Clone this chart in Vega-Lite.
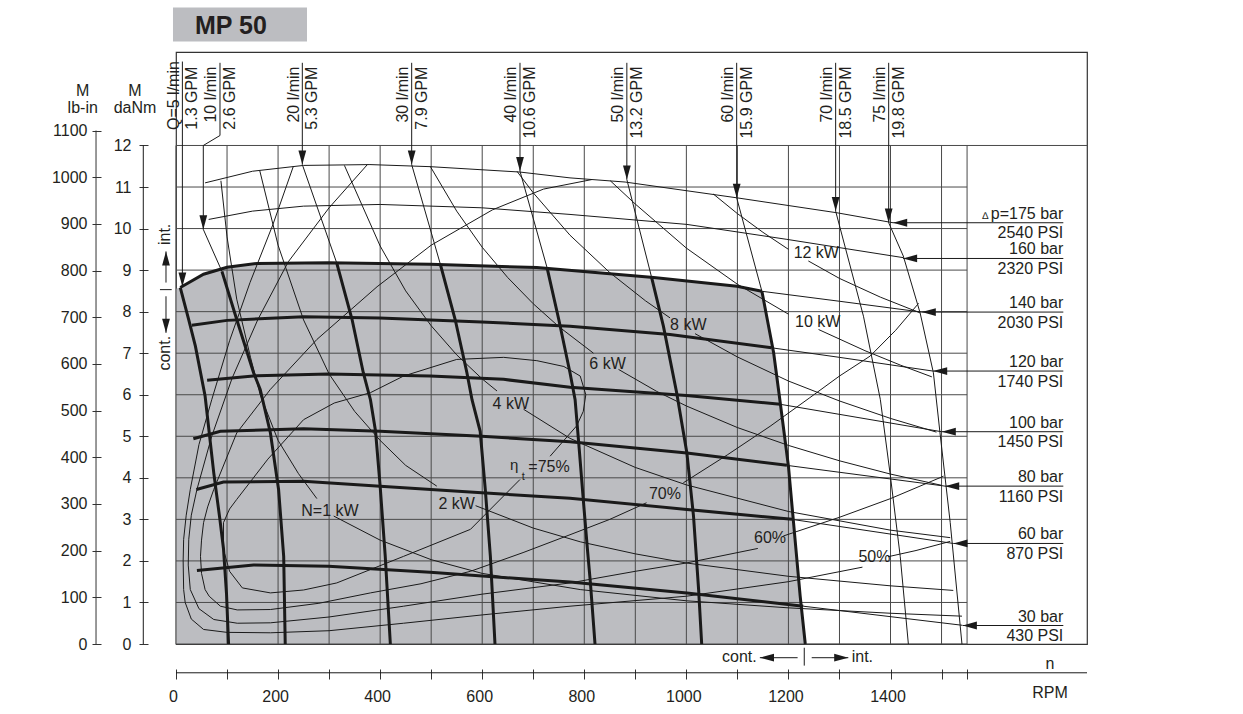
{
"$schema":"https://vega.github.io/schema/vega-lite/v6.json",
"width":911,"height":592,
"autosize":{"type":"none"},
"padding":{"left":176,"top":52,"right":156,"bottom":70},
"background":"white",
"config":{"view":{"stroke":"#333","strokeWidth":1.2},"text":{"font":"Liberation Sans","fontSize":16,"color":"#231f20"}},
"datasets":{
"grid":[
{"rpm":0,"rpm2":0,"M":0,"M2":12},{"rpm":100,"rpm2":100,"M":0,"M2":12},{"rpm":200,"rpm2":200,"M":0,"M2":12},{"rpm":300,"rpm2":300,"M":0,"M2":12},{"rpm":400,"rpm2":400,"M":0,"M2":12},{"rpm":500,"rpm2":500,"M":0,"M2":12},{"rpm":600,"rpm2":600,"M":0,"M2":12},{"rpm":700,"rpm2":700,"M":0,"M2":12},{"rpm":800,"rpm2":800,"M":0,"M2":12},{"rpm":900,"rpm2":900,"M":0,"M2":12},{"rpm":1000,"rpm2":1000,"M":0,"M2":12},{"rpm":1100,"rpm2":1100,"M":0,"M2":12},{"rpm":1200,"rpm2":1200,"M":0,"M2":12},{"rpm":1300,"rpm2":1300,"M":0,"M2":12},{"rpm":1400,"rpm2":1400,"M":0,"M2":12},{"rpm":1500,"rpm2":1500,"M":0,"M2":12},{"rpm":1550,"rpm2":1550,"M":0,"M2":12},
{"rpm":0,"rpm2":1550,"M":0,"M2":0},{"rpm":0,"rpm2":1550,"M":1,"M2":1},{"rpm":0,"rpm2":1550,"M":2,"M2":2},{"rpm":0,"rpm2":1550,"M":3,"M2":3},{"rpm":0,"rpm2":1550,"M":4,"M2":4},{"rpm":0,"rpm2":1550,"M":5,"M2":5},{"rpm":0,"rpm2":1550,"M":6,"M2":6},{"rpm":0,"rpm2":1550,"M":7,"M2":7},{"rpm":0,"rpm2":1550,"M":8,"M2":8},{"rpm":0,"rpm2":1550,"M":9,"M2":9},{"rpm":0,"rpm2":1550,"M":10,"M2":10},{"rpm":0,"rpm2":1550,"M":11,"M2":11},{"rpm":0,"rpm2":1785,"M":12,"M2":12}
],
"area":[
{"rpm":0,"M":8.55},{"rpm":8.4,"M":8.58},{"rpm":54,"M":8.9},{"rpm":100,"M":9.07},{"rpm":159,"M":9.16},{"rpm":299,"M":9.18},{"rpm":498,"M":9.14},{"rpm":707,"M":9.06},{"rpm":936,"M":8.82},{"rpm":1099,"M":8.61},{"rpm":1148,"M":8.49},{"rpm":1171,"M":7.01},{"rpm":1184,"M":5.8},{"rpm":1200,"M":4.28},{"rpm":1210,"M":2.92},{"rpm":1223,"M":1.15},{"rpm":1233,"M":0}
],
"curves":[
{"c":"p140","k":"cont","rpm":8.4,"M":8.58},{"c":"p140","k":"cont","rpm":54,"M":8.9},{"c":"p140","k":"cont","rpm":100,"M":9.07},{"c":"p140","k":"cont","rpm":159,"M":9.16},{"c":"p140","k":"cont","rpm":299,"M":9.18},{"c":"p140","k":"cont","rpm":498,"M":9.14},{"c":"p140","k":"cont","rpm":707,"M":9.06},{"c":"p140","k":"cont","rpm":936,"M":8.82},{"c":"p140","k":"cont","rpm":1099,"M":8.61},{"c":"p140","k":"cont","rpm":1148,"M":8.49},
{"c":"p120","k":"cont","rpm":31,"M":7.67},{"c":"p120","k":"cont","rpm":100,"M":7.79},{"c":"p120","k":"cont","rpm":250,"M":7.88},{"c":"p120","k":"cont","rpm":399,"M":7.85},{"c":"p120","k":"cont","rpm":599,"M":7.75},{"c":"p120","k":"cont","rpm":772,"M":7.65},{"c":"p120","k":"cont","rpm":968,"M":7.45},{"c":"p120","k":"cont","rpm":1167,"M":7.13},
{"c":"p100","k":"cont","rpm":61,"M":6.35},{"c":"p100","k":"cont","rpm":159,"M":6.46},{"c":"p100","k":"cont","rpm":299,"M":6.5},{"c":"p100","k":"cont","rpm":498,"M":6.45},{"c":"p100","k":"cont","rpm":642,"M":6.37},{"c":"p100","k":"cont","rpm":772,"M":6.18},{"c":"p100","k":"cont","rpm":1000,"M":5.98},{"c":"p100","k":"cont","rpm":1184,"M":5.77},
{"c":"p80","k":"cont","rpm":34,"M":4.94},{"c":"p80","k":"cont","rpm":87,"M":5.12},{"c":"p80","k":"cont","rpm":250,"M":5.18},{"c":"p80","k":"cont","rpm":400,"M":5.12},{"c":"p80","k":"cont","rpm":599,"M":5.0},{"c":"p80","k":"cont","rpm":772,"M":4.87},{"c":"p80","k":"cont","rpm":1001,"M":4.6},{"c":"p80","k":"cont","rpm":1197,"M":4.3},
{"c":"p60","k":"cont","rpm":40,"M":3.72},{"c":"p60","k":"cont","rpm":93,"M":3.9},{"c":"p60","k":"cont","rpm":250,"M":3.92},{"c":"p60","k":"cont","rpm":400,"M":3.8},{"c":"p60","k":"cont","rpm":599,"M":3.64},{"c":"p60","k":"cont","rpm":772,"M":3.51},{"c":"p60","k":"cont","rpm":1001,"M":3.24},{"c":"p60","k":"cont","rpm":1207,"M":3.0},
{"c":"p30","k":"cont","rpm":41,"M":1.77},{"c":"p30","k":"cont","rpm":152,"M":1.9},{"c":"p30","k":"cont","rpm":299,"M":1.87},{"c":"p30","k":"cont","rpm":498,"M":1.73},{"c":"p30","k":"cont","rpm":699,"M":1.55},{"c":"p30","k":"cont","rpm":772,"M":1.49},{"c":"p30","k":"cont","rpm":1001,"M":1.23},{"c":"p30","k":"cont","rpm":1229,"M":0.91},
{"c":"q5","k":"cont","rpm":8.4,"M":8.58},{"c":"q5","k":"cont","rpm":25,"M":7.8},{"c":"q5","k":"cont","rpm":38,"M":7.17},{"c":"q5","k":"cont","rpm":57,"M":5.97},{"c":"q5","k":"cont","rpm":74,"M":4.12},{"c":"q5","k":"cont","rpm":86,"M":3.0},{"c":"q5","k":"cont","rpm":93,"M":2.3},{"c":"q5","k":"cont","rpm":99,"M":1.2},{"c":"q5","k":"cont","rpm":103,"M":0},
{"c":"q10","k":"cont","rpm":90,"M":8.97},{"c":"q10","k":"cont","rpm":119,"M":7.81},{"c":"q10","k":"cont","rpm":152,"M":6.53},{"c":"q10","k":"cont","rpm":165,"M":6.13},{"c":"q10","k":"cont","rpm":185,"M":5.08},{"c":"q10","k":"cont","rpm":201,"M":3.72},{"c":"q10","k":"cont","rpm":211,"M":2.11},{"c":"q10","k":"cont","rpm":214,"M":0},
{"c":"q20","k":"cont","rpm":315,"M":9.17},{"c":"q20","k":"cont","rpm":345,"M":7.81},{"c":"q20","k":"cont","rpm":367,"M":6.53},{"c":"q20","k":"cont","rpm":381,"M":5.88},{"c":"q20","k":"cont","rpm":391,"M":5.12},{"c":"q20","k":"cont","rpm":400,"M":3.8},{"c":"q20","k":"cont","rpm":410,"M":2.11},{"c":"q20","k":"cont","rpm":420,"M":0},
{"c":"q30","k":"cont","rpm":518,"M":9.14},{"c":"q30","k":"cont","rpm":547,"M":7.81},{"c":"q30","k":"cont","rpm":570,"M":6.53},{"c":"q30","k":"cont","rpm":580,"M":5.88},{"c":"q30","k":"cont","rpm":596,"M":5.12},{"c":"q30","k":"cont","rpm":606,"M":3.72},{"c":"q30","k":"cont","rpm":616,"M":2.11},{"c":"q30","k":"cont","rpm":625,"M":0},
{"c":"q40","k":"cont","rpm":727,"M":9.06},{"c":"q40","k":"cont","rpm":750,"M":7.81},{"c":"q40","k":"cont","rpm":772,"M":6.53},{"c":"q40","k":"cont","rpm":782,"M":5.88},{"c":"q40","k":"cont","rpm":790,"M":4.7},{"c":"q40","k":"cont","rpm":798,"M":3.48},{"c":"q40","k":"cont","rpm":806,"M":2.3},{"c":"q40","k":"cont","rpm":812,"M":1.47},{"c":"q40","k":"cont","rpm":821,"M":0},
{"c":"q50","k":"cont","rpm":932,"M":8.82},{"c":"q50","k":"cont","rpm":955,"M":7.65},{"c":"q50","k":"cont","rpm":981,"M":6.05},{"c":"q50","k":"cont","rpm":1001,"M":4.6},{"c":"q50","k":"cont","rpm":1014,"M":3.08},{"c":"q50","k":"cont","rpm":1024,"M":1.31},{"c":"q50","k":"cont","rpm":1030,"M":0},
{"c":"q60","k":"cont","rpm":1148,"M":8.49},{"c":"q60","k":"cont","rpm":1171,"M":7.01},{"c":"q60","k":"cont","rpm":1184,"M":5.8},{"c":"q60","k":"cont","rpm":1200,"M":4.28},{"c":"q60","k":"cont","rpm":1210,"M":2.92},{"c":"q60","k":"cont","rpm":1223,"M":1.15},{"c":"q60","k":"cont","rpm":1233,"M":0},
{"c":"p140i","k":"int","rpm":1148,"M":8.49},{"c":"p140i","k":"int","rpm":1300,"M":8.25},{"c":"p140i","k":"int","rpm":1461,"M":7.99},
{"c":"p120i","k":"int","rpm":1167,"M":7.13},{"c":"p120i","k":"int","rpm":1300,"M":6.9},{"c":"p120i","k":"int","rpm":1483,"M":6.57},
{"c":"p100i","k":"int","rpm":1184,"M":5.77},{"c":"p100i","k":"int","rpm":1500,"M":5.11},
{"c":"p80i","k":"int","rpm":1197,"M":4.3},{"c":"p80i","k":"int","rpm":1507,"M":3.8},
{"c":"p60i","k":"int","rpm":1207,"M":3.0},{"c":"p60i","k":"int","rpm":1523,"M":2.42},
{"c":"p30i","k":"int","rpm":1229,"M":0.91},{"c":"p30i","k":"int","rpm":1541,"M":0.45},
{"c":"p175i","k":"int","rpm":57,"M":11.1},{"c":"p175i","k":"int","rpm":150,"M":11.38},{"c":"p175i","k":"int","rpm":250,"M":11.52},{"c":"p175i","k":"int","rpm":380,"M":11.54},{"c":"p175i","k":"int","rpm":498,"M":11.49},{"c":"p175i","k":"int","rpm":674,"M":11.36},{"c":"p175i","k":"int","rpm":772,"M":11.22},{"c":"p175i","k":"int","rpm":880,"M":11.12},{"c":"p175i","k":"int","rpm":1099,"M":10.74},{"c":"p175i","k":"int","rpm":1295,"M":10.38},{"c":"p175i","k":"int","rpm":1405,"M":10.14},
{"c":"p160i","k":"int","rpm":64,"M":10.22},{"c":"p160i","k":"int","rpm":150,"M":10.42},{"c":"p160i","k":"int","rpm":250,"M":10.54},{"c":"p160i","k":"int","rpm":400,"M":10.58},{"c":"p160i","k":"int","rpm":599,"M":10.5},{"c":"p160i","k":"int","rpm":772,"M":10.34},{"c":"p160i","k":"int","rpm":1001,"M":10.1},{"c":"p160i","k":"int","rpm":1197,"M":9.74},{"c":"p160i","k":"int","rpm":1425,"M":9.3},
{"c":"q10i","k":"int","rpm":53.5,"M":9.98},{"c":"q10i","k":"int","rpm":90,"M":8.97},
{"c":"q20i","k":"int","rpm":247.5,"M":11.54},{"c":"q20i","k":"int","rpm":315,"M":9.17},
{"c":"q30i","k":"int","rpm":461.8,"M":11.54},{"c":"q30i","k":"int","rpm":518,"M":9.14},
{"c":"q40i","k":"int","rpm":674,"M":11.38},{"c":"q40i","k":"int","rpm":727,"M":9.06},
{"c":"q50i","k":"int","rpm":883.4,"M":11.18},{"c":"q50i","k":"int","rpm":932,"M":8.82},
{"c":"q60i","k":"int","rpm":1098.6,"M":10.74},{"c":"q60i","k":"int","rpm":1148,"M":8.49},
{"c":"q70i","k":"int","rpm":1292.5,"M":10.42},{"c":"q70i","k":"int","rpm":1347,"M":7.89},{"c":"q70i","k":"int","rpm":1380,"M":5.89},{"c":"q70i","k":"int","rpm":1399,"M":4.12},{"c":"q70i","k":"int","rpm":1419,"M":2.11},{"c":"q70i","k":"int","rpm":1435,"M":0},
{"c":"q75i","k":"int","rpm":1396.4,"M":10.14},{"c":"q75i","k":"int","rpm":1425,"M":9.34},{"c":"q75i","k":"int","rpm":1458,"M":7.97},{"c":"q75i","k":"int","rpm":1484,"M":6.53},{"c":"q75i","k":"int","rpm":1497,"M":5.08},{"c":"q75i","k":"int","rpm":1517,"M":2.92},{"c":"q75i","k":"int","rpm":1540,"M":0},
{"c":"kw1a","k":"power","rpm":88,"M":11.15},{"c":"kw1a","k":"power","rpm":100,"M":9.8},{"c":"kw1a","k":"power","rpm":119,"M":8.3},{"c":"kw1a","k":"power","rpm":146,"M":6.9},{"c":"kw1a","k":"power","rpm":165,"M":6.0},{"c":"kw1a","k":"power","rpm":200,"M":4.9},{"c":"kw1a","k":"power","rpm":240,"M":4.1},{"c":"kw1a","k":"power","rpm":276,"M":3.5},
{"c":"kw1b","k":"power","rpm":309,"M":3.08},{"c":"kw1b","k":"power","rpm":400,"M":2.5},{"c":"kw1b","k":"power","rpm":500,"M":2.03},{"c":"kw1b","k":"power","rpm":600,"M":1.7},{"c":"kw1b","k":"power","rpm":792,"M":1.31},{"c":"kw1b","k":"power","rpm":1000,"M":1.04},{"c":"kw1b","k":"power","rpm":1200,"M":0.87},{"c":"kw1b","k":"power","rpm":1400,"M":0.74},{"c":"kw1b","k":"power","rpm":1540,"M":0.67},
{"c":"kw2a","k":"power","rpm":164,"M":11.4},{"c":"kw2a","k":"power","rpm":200,"M":9.6},{"c":"kw2a","k":"power","rpm":250,"M":7.8},{"c":"kw2a","k":"power","rpm":300,"M":6.5},{"c":"kw2a","k":"power","rpm":350,"M":5.6},{"c":"kw2a","k":"power","rpm":400,"M":4.9},{"c":"kw2a","k":"power","rpm":450,"M":4.3},{"c":"kw2a","k":"power","rpm":511,"M":3.8},
{"c":"kw2b","k":"power","rpm":587,"M":3.33},{"c":"kw2b","k":"power","rpm":700,"M":2.79},{"c":"kw2b","k":"power","rpm":792,"M":2.46},{"c":"kw2b","k":"power","rpm":900,"M":2.17},{"c":"kw2b","k":"power","rpm":1000,"M":1.95},{"c":"kw2b","k":"power","rpm":1200,"M":1.63},{"c":"kw2b","k":"power","rpm":1400,"M":1.4},{"c":"kw2b","k":"power","rpm":1523,"M":1.29},
{"c":"kw4a","k":"power","rpm":330,"M":11.52},{"c":"kw4a","k":"power","rpm":400,"M":9.58},{"c":"kw4a","k":"power","rpm":450,"M":8.5},{"c":"kw4a","k":"power","rpm":500,"M":7.66},{"c":"kw4a","k":"power","rpm":550,"M":6.96},{"c":"kw4a","k":"power","rpm":600,"M":6.38},{"c":"kw4a","k":"power","rpm":629,"M":6.09},
{"c":"kw4b","k":"power","rpm":681,"M":5.65},{"c":"kw4b","k":"power","rpm":772,"M":4.95},{"c":"kw4b","k":"power","rpm":900,"M":4.25},{"c":"kw4b","k":"power","rpm":1000,"M":3.83},{"c":"kw4b","k":"power","rpm":1200,"M":3.19},{"c":"kw4b","k":"power","rpm":1400,"M":2.74},{"c":"kw4b","k":"power","rpm":1517,"M":2.56},
{"c":"kw6a","k":"power","rpm":498,"M":11.5},{"c":"kw6a","k":"power","rpm":550,"M":10.42},{"c":"kw6a","k":"power","rpm":600,"M":9.55},{"c":"kw6a","k":"power","rpm":650,"M":8.82},{"c":"kw6a","k":"power","rpm":700,"M":8.19},{"c":"kw6a","k":"power","rpm":750,"M":7.64},{"c":"kw6a","k":"power","rpm":818,"M":7.0},
{"c":"kw6b","k":"power","rpm":867,"M":6.61},{"c":"kw6b","k":"power","rpm":942,"M":6.08},{"c":"kw6b","k":"power","rpm":1000,"M":5.73},{"c":"kw6b","k":"power","rpm":1100,"M":5.21},{"c":"kw6b","k":"power","rpm":1200,"M":4.78},{"c":"kw6b","k":"power","rpm":1300,"M":4.41},{"c":"kw6b","k":"power","rpm":1400,"M":4.09},{"c":"kw6b","k":"power","rpm":1500,"M":3.82},
{"c":"kw8a","k":"power","rpm":668,"M":11.38},{"c":"kw8a","k":"power","rpm":700,"M":10.86},{"c":"kw8a","k":"power","rpm":772,"M":9.84},{"c":"kw8a","k":"power","rpm":850,"M":8.94},{"c":"kw8a","k":"power","rpm":920,"M":8.26},{"c":"kw8a","k":"power","rpm":968,"M":7.85},
{"c":"kw8b","k":"power","rpm":1017,"M":7.47},{"c":"kw8b","k":"power","rpm":1100,"M":6.91},{"c":"kw8b","k":"power","rpm":1200,"M":6.33},{"c":"kw8b","k":"power","rpm":1300,"M":5.85},{"c":"kw8b","k":"power","rpm":1400,"M":5.43},{"c":"kw8b","k":"power","rpm":1490,"M":5.1},
{"c":"kw10a","k":"power","rpm":851,"M":11.15},{"c":"kw10a","k":"power","rpm":900,"M":10.59},{"c":"kw10a","k":"power","rpm":1000,"M":9.53},{"c":"kw10a","k":"power","rpm":1100,"M":8.66},{"c":"kw10a","k":"power","rpm":1200,"M":7.94},
{"c":"kw10b","k":"power","rpm":1259,"M":7.57},{"c":"kw10b","k":"power","rpm":1350,"M":7.06},{"c":"kw10b","k":"power","rpm":1420,"M":6.71},{"c":"kw10b","k":"power","rpm":1481,"M":6.43},
{"c":"kw12a","k":"power","rpm":1053,"M":10.83},{"c":"kw12a","k":"power","rpm":1100,"M":10.36},{"c":"kw12a","k":"power","rpm":1150,"M":9.91},{"c":"kw12a","k":"power","rpm":1200,"M":9.5},
{"c":"kw12b","k":"power","rpm":1239,"M":9.22},{"c":"kw12b","k":"power","rpm":1300,"M":8.8},{"c":"kw12b","k":"power","rpm":1380,"M":8.35},{"c":"kw12b","k":"power","rpm":1458,"M":7.97},
{"c":"e75","k":"eff","rpm":674,"M":3.96},{"c":"e75","k":"eff","rpm":577,"M":2.76},{"c":"e75","k":"eff","rpm":446,"M":2.11},{"c":"e75","k":"eff","rpm":315,"M":1.47},{"c":"e75","k":"eff","rpm":250,"M":1.3},{"c":"e75","k":"eff","rpm":185,"M":1.23},{"c":"e75","k":"eff","rpm":130,"M":1.35},{"c":"e75","k":"eff","rpm":105,"M":1.75},{"c":"e75","k":"eff","rpm":93,"M":2.27},{"c":"e75","k":"eff","rpm":93,"M":2.92},{"c":"e75","k":"eff","rpm":105,"M":3.25},{"c":"e75","k":"eff","rpm":119,"M":3.48},{"c":"e75","k":"eff","rpm":180,"M":4.45},{"c":"e75","k":"eff","rpm":250,"M":5.4},{"c":"e75","k":"eff","rpm":310,"M":5.8},{"c":"e75","k":"eff","rpm":381,"M":6.05},{"c":"e75","k":"eff","rpm":446,"M":6.45},{"c":"e75","k":"eff","rpm":550,"M":6.85},{"c":"e75","k":"eff","rpm":642,"M":6.9},{"c":"e75","k":"eff","rpm":707,"M":6.82},{"c":"e75","k":"eff","rpm":760,"M":6.68},{"c":"e75","k":"eff","rpm":792,"M":6.45},{"c":"e75","k":"eff","rpm":803,"M":6.0},{"c":"e75","k":"eff","rpm":798,"M":5.6},{"c":"e75","k":"eff","rpm":785,"M":5.25},{"c":"e75","k":"eff","rpm":760,"M":4.9},{"c":"e75","k":"eff","rpm":733,"M":4.52},
{"c":"e70a","k":"eff","rpm":994,"M":3.88},{"c":"e70a","k":"eff","rpm":1080,"M":4.55},{"c":"e70a","k":"eff","rpm":1164,"M":5.24},{"c":"e70a","k":"eff","rpm":1242,"M":5.93},{"c":"e70a","k":"eff","rpm":1300,"M":6.45},{"c":"e70a","k":"eff","rpm":1360,"M":6.93},{"c":"e70a","k":"eff","rpm":1410,"M":7.55},{"c":"e70a","k":"eff","rpm":1455,"M":8.2},
{"c":"e70b","k":"eff","rpm":922,"M":3.4},{"c":"e70b","k":"eff","rpm":850,"M":3.0},{"c":"e70b","k":"eff","rpm":772,"M":2.63},{"c":"e70b","k":"eff","rpm":680,"M":2.2},{"c":"e70b","k":"eff","rpm":577,"M":1.75},{"c":"e70b","k":"eff","rpm":480,"M":1.45},{"c":"e70b","k":"eff","rpm":381,"M":1.23},{"c":"e70b","k":"eff","rpm":280,"M":0.98},{"c":"e70b","k":"eff","rpm":185,"M":0.83},{"c":"e70b","k":"eff","rpm":120,"M":0.82},{"c":"e70b","k":"eff","rpm":87,"M":0.91},{"c":"e70b","k":"eff","rpm":65,"M":1.15},{"c":"e70b","k":"eff","rpm":57,"M":1.31},{"c":"e70b","k":"eff","rpm":50,"M":1.7},{"c":"e70b","k":"eff","rpm":48,"M":2.11},{"c":"e70b","k":"eff","rpm":50,"M":2.5},{"c":"e70b","k":"eff","rpm":54,"M":2.92},{"c":"e70b","k":"eff","rpm":62,"M":3.3},{"c":"e70b","k":"eff","rpm":74,"M":3.72},{"c":"e70b","k":"eff","rpm":119,"M":5.08},{"c":"e70b","k":"eff","rpm":185,"M":6.13},{"c":"e70b","k":"eff","rpm":276,"M":7.33},{"c":"e70b","k":"eff","rpm":394,"M":8.6},{"c":"e70b","k":"eff","rpm":500,"M":9.6},{"c":"e70b","k":"eff","rpm":620,"M":10.45},{"c":"e70b","k":"eff","rpm":720,"M":10.95},{"c":"e70b","k":"eff","rpm":815,"M":11.18},
{"c":"e60a","k":"eff","rpm":1190,"M":2.6},{"c":"e60a","k":"eff","rpm":1300,"M":3.05},{"c":"e60a","k":"eff","rpm":1400,"M":3.5},{"c":"e60a","k":"eff","rpm":1504,"M":4.04},
{"c":"e60b","k":"eff","rpm":1140,"M":2.3},{"c":"e60b","k":"eff","rpm":1000,"M":1.95},{"c":"e60b","k":"eff","rpm":900,"M":1.75},{"c":"e60b","k":"eff","rpm":772,"M":1.47},{"c":"e60b","k":"eff","rpm":600,"M":1.2},{"c":"e60b","k":"eff","rpm":446,"M":0.91},{"c":"e60b","k":"eff","rpm":300,"M":0.65},{"c":"e60b","k":"eff","rpm":185,"M":0.51},{"c":"e60b","k":"eff","rpm":120,"M":0.5},{"c":"e60b","k":"eff","rpm":74,"M":0.59},{"c":"e60b","k":"eff","rpm":45,"M":0.85},{"c":"e60b","k":"eff","rpm":28,"M":1.31},{"c":"e60b","k":"eff","rpm":24,"M":1.9},{"c":"e60b","k":"eff","rpm":25,"M":2.52},{"c":"e60b","k":"eff","rpm":30,"M":3.1},{"c":"e60b","k":"eff","rpm":41,"M":3.72},{"c":"e60b","k":"eff","rpm":70,"M":5.0},{"c":"e60b","k":"eff","rpm":110,"M":6.4},{"c":"e60b","k":"eff","rpm":160,"M":7.8},{"c":"e60b","k":"eff","rpm":220,"M":9.2},{"c":"e60b","k":"eff","rpm":300,"M":10.5},{"c":"e60b","k":"eff","rpm":375,"M":11.54},
{"c":"e50a","k":"eff","rpm":1395,"M":2.1},{"c":"e50a","k":"eff","rpm":1450,"M":2.25},{"c":"e50a","k":"eff","rpm":1517,"M":2.47},
{"c":"e50b","k":"eff","rpm":1345,"M":1.85},{"c":"e50b","k":"eff","rpm":1200,"M":1.5},{"c":"e50b","k":"eff","rpm":1000,"M":1.15},{"c":"e50b","k":"eff","rpm":772,"M":0.91},{"c":"e50b","k":"eff","rpm":600,"M":0.7},{"c":"e50b","k":"eff","rpm":446,"M":0.5},{"c":"e50b","k":"eff","rpm":300,"M":0.32},{"c":"e50b","k":"eff","rpm":185,"M":0.27},{"c":"e50b","k":"eff","rpm":100,"M":0.28},{"c":"e50b","k":"eff","rpm":54,"M":0.35},{"c":"e50b","k":"eff","rpm":30,"M":0.6},{"c":"e50b","k":"eff","rpm":18,"M":1.0},{"c":"e50b","k":"eff","rpm":15,"M":1.31},{"c":"e50b","k":"eff","rpm":14,"M":2.0},{"c":"e50b","k":"eff","rpm":15,"M":2.52},{"c":"e50b","k":"eff","rpm":20,"M":3.1},{"c":"e50b","k":"eff","rpm":28,"M":3.72},{"c":"e50b","k":"eff","rpm":45,"M":4.8},{"c":"e50b","k":"eff","rpm":70,"M":5.88},{"c":"e50b","k":"eff","rpm":105,"M":7.3},{"c":"e50b","k":"eff","rpm":145,"M":8.7},{"c":"e50b","k":"eff","rpm":190,"M":10.1},{"c":"e50b","k":"eff","rpm":230,"M":11.5}
],
"stems":[
{"rpm":12.5,"M":14.02,"rpm2":12.5,"M2":8.6},
{"rpm":86.2,"M":13.99,"rpm2":86.2,"M2":12.24},{"rpm":86.2,"M":12.24,"rpm2":53.5,"M2":12.0},{"rpm":53.5,"M":12.0,"rpm2":53.5,"M2":9.98},
{"rpm":247.5,"M":13.99,"rpm2":247.5,"M2":11.54},{"rpm":461.8,"M":13.99,"rpm2":461.8,"M2":11.54},{"rpm":674,"M":13.99,"rpm2":674,"M2":11.38},{"rpm":883.4,"M":13.99,"rpm2":883.4,"M2":11.18},{"rpm":1098.6,"M":13.99,"rpm2":1098.6,"M2":10.74},{"rpm":1292.5,"M":13.99,"rpm2":1292.5,"M2":10.42},{"rpm":1396.4,"M":13.99,"rpm2":1396.4,"M2":10.14},
{"rpm":1405,"M":10.14,"rpm2":1738.6,"M2":10.14},{"rpm":1424.5,"M":9.28,"rpm2":1738.6,"M2":9.28},{"rpm":1461.1,"M":7.99,"rpm2":1738.6,"M2":7.99},{"rpm":1483.3,"M":6.57,"rpm2":1738.6,"M2":6.57},{"rpm":1500.3,"M":5.11,"rpm2":1738.6,"M2":5.11},{"rpm":1506.8,"M":3.8,"rpm2":1738.6,"M2":3.8},{"rpm":1523.1,"M":2.42,"rpm2":1738.6,"M2":2.42},{"rpm":1541.5,"M":0.445,"rpm2":1738.6,"M2":0.445},
{"rpm":-19.6,"M":8.7,"rpm2":-19.6,"M2":9.45},{"rpm":-19.6,"M":8.37,"rpm2":-19.6,"M2":7.49},{"rpm":-31.4,"M":8.53,"rpm2":-8.4,"M2":8.53},
{"rpm":1218,"M":-0.33,"rpm2":1144,"M2":-0.33},{"rpm":1231,"M":-0.09,"rpm2":1231,"M2":-0.52},{"rpm":1245.6,"M":-0.33,"rpm2":1317.3,"M2":-0.33},
{"rpm":-64.1,"M":0,"rpm2":-64.1,"M2":12},{"rpm":0,"M":-0.693,"rpm2":1785,"M2":-0.693}
],
"heads":[
{"rpm":12.5,"M":8.6,"dir":"down"},{"rpm":53.5,"M":9.98,"dir":"down"},{"rpm":247.5,"M":11.54,"dir":"down"},{"rpm":461.8,"M":11.54,"dir":"down"},{"rpm":674,"M":11.38,"dir":"down"},{"rpm":883.4,"M":11.18,"dir":"down"},{"rpm":1098.6,"M":10.74,"dir":"down"},{"rpm":1292.5,"M":10.42,"dir":"down"},{"rpm":1396.4,"M":10.14,"dir":"down"},
{"rpm":1405,"M":10.14,"dir":"left"},{"rpm":1424.5,"M":9.28,"dir":"left"},{"rpm":1461.1,"M":7.99,"dir":"left"},{"rpm":1483.3,"M":6.57,"dir":"left"},{"rpm":1500.3,"M":5.11,"dir":"left"},{"rpm":1506.8,"M":3.8,"dir":"left"},{"rpm":1523.1,"M":2.42,"dir":"left"},{"rpm":1541.5,"M":0.445,"dir":"left"},
{"rpm":-19.6,"M":9.45,"dir":"up"},{"rpm":-19.6,"M":7.49,"dir":"down"},{"rpm":1144,"M":-0.33,"dir":"left"},{"rpm":1317.3,"M":-0.33,"dir":"right"}
],
"texts":[
{"g":"rot","t":"Q=5 l/min","rpm":5.6,"M":14.03},{"g":"rot","t":"10 l/min","rpm":79.3,"M":13.9},{"g":"rot","t":"20 l/min","rpm":240.6,"M":13.9},{"g":"rot","t":"30 l/min","rpm":454.9,"M":13.9},{"g":"rot","t":"40 l/min","rpm":667.1,"M":13.9},{"g":"rot","t":"50 l/min","rpm":876.5,"M":13.9},{"g":"rot","t":"60 l/min","rpm":1091.7,"M":13.9},{"g":"rot","t":"70 l/min","rpm":1285.6,"M":13.9},{"g":"rot","t":"75 l/min","rpm":1389.5,"M":13.9},
{"g":"rot","t":"1.3 GPM","rpm":41.9,"M":13.9},{"g":"rot","t":"2.6 GPM","rpm":115.6,"M":13.9},{"g":"rot","t":"5.3 GPM","rpm":276.9,"M":13.9},{"g":"rot","t":"7.9 GPM","rpm":491.2,"M":13.9},{"g":"rot","t":"10.6 GPM","rpm":703.4,"M":13.9},{"g":"rot","t":"13.2 GPM","rpm":912.8,"M":13.9},{"g":"rot","t":"15.9 GPM","rpm":1128,"M":13.9},{"g":"rot","t":"18.5 GPM","rpm":1321.9,"M":13.9},{"g":"rot","t":"19.8 GPM","rpm":1425.8,"M":13.9},
{"g":"rotc","t":"int.","rpm":-22.5,"M":9.86},{"g":"rotc","t":"cont.","rpm":-22.5,"M":7.0},
{"g":"c","t":"N=1 kW","rpm":301.7,"M":3.09},{"g":"c","t":"2 kW","rpm":550,"M":3.25},{"g":"c","t":"4 kW","rpm":656,"M":5.66},{"g":"c","t":"6 kW","rpm":845.5,"M":6.63},{"g":"c","t":"8 kW","rpm":1003.8,"M":7.57},{"g":"c","t":"10 kW","rpm":1257.5,"M":7.63},{"g":"c","t":"12 kW","rpm":1254.6,"M":9.3},{"g":"c","t":"70%","rpm":958,"M":3.5},{"g":"c","t":"60%","rpm":1164,"M":2.42},{"g":"c","t":"50%","rpm":1368.6,"M":1.97},
{"g":"c","t":"M","rpm":-80.3,"M":13.19},{"g":"c","t":"daNm","rpm":-80.3,"M":12.79},{"g":"c","t":"M","rpm":-182.8,"M":13.19},{"g":"c","t":"lb-in","rpm":-182.8,"M":12.79},{"g":"c","t":"n","rpm":1712.5,"M":-0.6},{"g":"c","t":"RPM","rpm":1712.5,"M":-1.29},
{"g":"r","t":"cont.","rpm":1137.8,"M":-0.437},{"g":"l","t":"int.","rpm":1324,"M":-0.437},{"g":"l","t":"=75%","rpm":690.3,"M":4.13},
{"g":"bar","t":"p=175 bar","rpm":1738.6,"M":10.14},{"g":"bar","t":"160 bar","rpm":1738.6,"M":9.28},{"g":"bar","t":"140 bar","rpm":1738.6,"M":7.99},{"g":"bar","t":"120 bar","rpm":1738.6,"M":6.57},{"g":"bar","t":"100 bar","rpm":1738.6,"M":5.11},{"g":"bar","t":"80 bar","rpm":1738.6,"M":3.8},{"g":"bar","t":"60 bar","rpm":1738.6,"M":2.42},{"g":"bar","t":"30 bar","rpm":1738.6,"M":0.445},
{"g":"psi","t":"2540 PSI","rpm":1738.6,"M":10.14},{"g":"psi","t":"2320 PSI","rpm":1738.6,"M":9.28},{"g":"psi","t":"2030 PSI","rpm":1738.6,"M":7.99},{"g":"psi","t":"1740 PSI","rpm":1738.6,"M":6.57},{"g":"psi","t":"1450 PSI","rpm":1738.6,"M":5.11},{"g":"psi","t":"1160 PSI","rpm":1738.6,"M":3.8},{"g":"psi","t":"870 PSI","rpm":1738.6,"M":2.42},{"g":"psi","t":"430 PSI","rpm":1738.6,"M":0.445}
]
},
"encoding":{
"x":{"field":"rpm","type":"quantitative","scale":{"domain":[0,1785],"nice":false,"zero":false},"axis":null},
"y":{"field":"M","type":"quantitative","scale":{"domain":[0,14.25],"nice":false,"zero":false},"axis":null}
},
"layer":[
{"data":{"values":[{"rpm":-5.9,"rpm2":256.7,"M":14.5,"M2":15.32}]},"mark":{"type":"rect","color":"#bcbdc1"},"encoding":{"x2":{"field":"rpm2"},"y2":{"field":"M2"}}},
{"data":{"values":[{"t":"MP 50","rpm":37.2,"M":14.69}]},"mark":{"type":"text","align":"left","baseline":"alphabetic","fontSize":25,"fontWeight":"bold","font":"Liberation Sans","color":"#231f20"},"encoding":{"text":{"field":"t"}}},
{"data":{"name":"area"},"mark":{"type":"area","color":"#bcbdc1","opacity":1},"encoding":{"y2":{"datum":0}}},
{"data":{"name":"grid"},"mark":{"type":"rule","color":"#4a4a4a","strokeWidth":1},
 "encoding":{
  "x":{"field":"rpm","type":"quantitative","scale":{"domain":[0,1785],"nice":false,"zero":false},
   "axis":{"orient":"bottom","offset":25,"values":[0,100,200,300,400,500,600,700,800,900,1000,1100,1200,1300,1400,1500,1550],"format":"d","labelExpr":"(datum.value % 200 == 0 && datum.value <= 1400) ? datum.label : ''","domain":false,"grid":false,"ticks":true,"tickSize":10,"tickColor":"#333","tickWidth":1,"labelPadding":9,"labelFontSize":16,"labelFont":"Liberation Sans","labelColor":"#231f20","labelFlush":false,"labelOverlap":false,"labelOffset":-3,"title":null}},
  "x2":{"field":"rpm2"},
  "y":{"field":"M","type":"quantitative","scale":{"domain":[0,14.25],"nice":false,"zero":false},
   "axis":{"orient":"left","offset":28,"values":[0,1,2,3,4,5,6,7,8,9,10,11,12],"domain":false,"grid":false,"ticks":true,"tickSize":9,"tickColor":"#333","tickWidth":1,"labelPadding":8,"labelFontSize":16,"labelFont":"Liberation Sans","labelColor":"#231f20","title":null}},
  "y2":{"field":"M2"}}},
{"data":{"values":[{"rpm":-156.7,"M":0,"rpm2":-156.7,"M2":12.36}]},"mark":{"type":"rule","color":"#333","strokeWidth":1},
 "encoding":{"x2":{"field":"rpm2"},
  "y":{"field":"M","type":"quantitative","scale":{"domain":[0,14.25],"nice":false,"zero":false},
   "axis":{"orient":"left","offset":75,"values":[0,1.1236,2.2472,3.3708,4.4944,5.618,6.7416,7.8652,8.9888,10.1124,11.236,12.3596],"labelExpr":"format(datum.value*89,'.0f')","domain":false,"grid":false,"ticks":true,"tickSize":9,"tickColor":"#333","tickWidth":1,"labelPadding":5,"labelFontSize":16,"labelFont":"Liberation Sans","labelColor":"#231f20","title":null}},
  "y2":{"field":"M2"}}},
{"data":{"name":"curves"},"transform":[{"window":[{"op":"row_number","as":"i"}]},{"filter":"datum.k != 'cont'"}],"mark":{"type":"line","color":"#1a1a1a","strokeWidth":1},"encoding":{"detail":{"field":"c"},"order":{"field":"i","type":"quantitative"}}},
{"data":{"name":"curves"},"transform":[{"window":[{"op":"row_number","as":"i"}]},{"filter":"datum.k == 'cont'"}],"mark":{"type":"line","color":"#1a1a1a","strokeWidth":3},"encoding":{"detail":{"field":"c"},"order":{"field":"i","type":"quantitative"}}},
{"data":{"name":"stems"},"mark":{"type":"rule","color":"#1a1a1a","strokeWidth":1},"encoding":{"x2":{"field":"rpm2"},"y2":{"field":"M2"}}},
{"data":{"name":"heads"},"mark":{"type":"point","filled":true,"color":"#1a1a1a","size":200,"strokeWidth":0,"opacity":1},"encoding":{"shape":{"field":"dir","type":"nominal","scale":{"domain":["down","left","up","right"],"range":["M0,0L-0.55,-2L0.55,-2Z","M0,0L2,-0.55L2,0.55Z","M0,0L-0.55,2L0.55,2Z","M0,0L-2,-0.55L-2,0.55Z"]},"legend":null}}},
{"data":{"name":"texts"},"transform":[{"filter":"datum.g == 'rot'"}],"mark":{"type":"text","angle":270,"align":"right","baseline":"alphabetic"},"encoding":{"text":{"field":"t"}}},
{"data":{"name":"texts"},"transform":[{"filter":"datum.g == 'rotc'"}],"mark":{"type":"text","angle":270,"align":"center","baseline":"middle"},"encoding":{"text":{"field":"t"}}},
{"data":{"name":"texts"},"transform":[{"filter":"datum.g == 'c'"}],"mark":{"type":"text","align":"center","baseline":"alphabetic"},"encoding":{"text":{"field":"t"}}},
{"data":{"name":"texts"},"transform":[{"filter":"datum.g == 'r'"}],"mark":{"type":"text","align":"right","baseline":"alphabetic"},"encoding":{"text":{"field":"t"}}},
{"data":{"name":"texts"},"transform":[{"filter":"datum.g == 'l'"}],"mark":{"type":"text","align":"left","baseline":"alphabetic"},"encoding":{"text":{"field":"t"}}},
{"data":{"name":"texts"},"transform":[{"filter":"datum.g == 'bar'"}],"mark":{"type":"text","align":"right","baseline":"alphabetic","dy":-4},"encoding":{"text":{"field":"t"}}},
{"data":{"name":"texts"},"transform":[{"filter":"datum.g == 'psi'"}],"mark":{"type":"text","align":"right","baseline":"alphabetic","dy":15.5},"encoding":{"text":{"field":"t"}}},
{"data":{"values":[{"t":"∆","rpm":1592,"M":10.14}]},"mark":{"type":"text","align":"right","baseline":"alphabetic","dy":-4,"fontSize":10},"encoding":{"text":{"field":"t"}}},
{"data":{"values":[{"t":"η","rpm":654.4,"M":4.2}]},"mark":{"type":"text","align":"left","baseline":"alphabetic","fontSize":15},"encoding":{"text":{"field":"t"}}},
{"data":{"values":[{"t":"t","rpm":677.4,"M":3.95}]},"mark":{"type":"text","align":"left","baseline":"alphabetic","fontSize":11},"encoding":{"text":{"field":"t"}}}
],
"resolve":{"axis":{"x":"independent","y":"independent"}}
}
